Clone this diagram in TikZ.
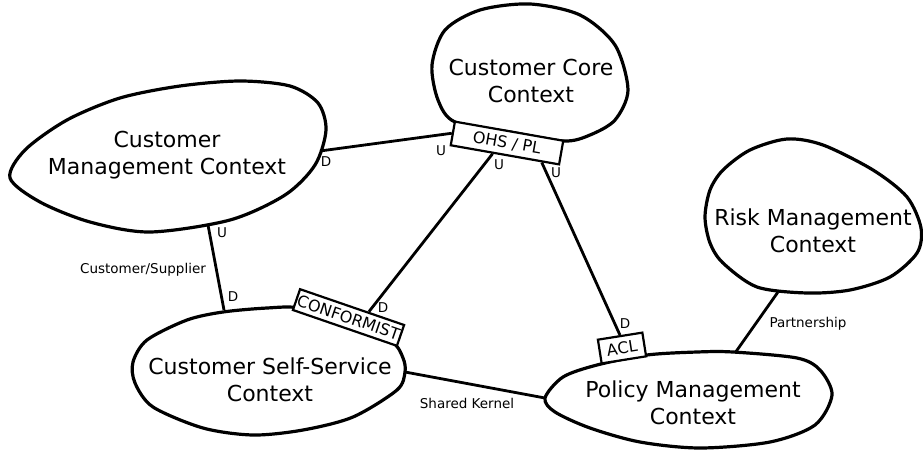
\documentclass[tikz,border=0pt]{standalone}
\usepackage{fontspec}
\setmainfont{DejaVu Sans}
\usetikzlibrary{calc}
\tikzset{
  blob/.style={line width=3.2pt, line join=round},
  ctx/.style={align=center, font=\fontsize{22}{27}\selectfont, inner sep=0pt},
  rbox/.style={draw, fill=white, line width=2.2pt, inner sep=0pt, font=\fontsize{16}{18}\selectfont},
  conn/.style={line width=2.8pt},
  lbl/.style={font=\fontsize{13.5}{15}\selectfont, inner sep=0pt}
}
\begin{document}
\begin{tikzpicture}[x=1pt, y=-1pt]
\useasboundingbox (0,0) rectangle (923,450);
% blobs
\draw[blob] plot[smooth cycle] coordinates {(455,122) (438,100) (432,65) (445,30) (480,10) (530,4) (580,15) (615,45) (628,90) (615,120) (590,135) (564,141) (510,132)};
\draw[blob] plot[smooth cycle] coordinates {(10,178) (25,150) (67,120) (120,98) (180,86) (240,81) (290,86) (318,103) (326,130) (315,165) (285,195) (230,220) (150,232) (90,222) (40,202)};
\draw[blob] plot[smooth cycle] coordinates {(133,362) (147,340) (187,320) (223,312) (267,308) (300,308) (350,322) (392,342) (403,358) (405,372) (397,390) (353,417) (303,430) (253,435) (203,428) (153,407) (135,383)};
\draw[blob] plot[smooth cycle] coordinates {(545,398) (563,377) (597,365) (647,355) (697,352) (733,352) (797,358) (820,370) (832,395) (815,425) (770,442) (700,448) (640,442) (590,428) (555,412)};
\draw[blob] plot[smooth cycle] coordinates {(705,217) (710,190) (723,170) (750,150) (787,139) (823,145) (873,170) (907,197) (921,228) (917,253) (890,277) (850,290) (807,293) (757,287) (723,263) (710,243)};
% context texts
\node[ctx] (core) at (531,81) {Customer Core\\Context};
\node[ctx] (mgmt) at (167,155) {Customer\\Management Context};
\node[ctx] (self) at (270,380) {Customer Self-Service\\Context};
\node[ctx] (policy) at (693,403) {Policy Management\\Context};
\node[ctx] (risk) at (813,231) {Risk Management\\Context};
% attachment coordinates
\coordinate (mgmtE) at (320,151);
\coordinate (mgmtS) at (208,225);
\coordinate (selfN) at (224,310);
\coordinate (selfE) at (405,372);
\coordinate (policyW) at (545,398);
\coordinate (policyN) at (735,353);
\coordinate (riskS) at (778,292);
% boxes
\node[rbox, rotate=-10, minimum width=110pt, minimum height=24pt] (ohs) at (507,143) {OHS / PL};
\node[rbox, rotate=-19, minimum width=110pt, minimum height=22pt] (conf) at (348.5,317.5) {CONFORMIST};
\node[rbox, rotate=9, minimum width=45pt, minimum height=24pt] (acl) at (622,348) {ACL};
% connectors
\draw[conn] (mgmtE) -- (ohs.west);
\draw[conn] (mgmtS) -- (selfN);
\draw[conn] ($(ohs.south)!0.22!(ohs.south west)$) -- ($(conf.north)!0.31!(conf.north east)$);
\draw[conn] ($(ohs.south)!0.67!(ohs.south east)$) -- (acl.north);
\draw[conn] (selfE) -- (policyW);
\draw[conn] (riskS) -- (policyN);
% labels
\node[lbl] (l1) at (441,151) {U};
\node[lbl] (l2) at (326,162) {D};
\node[lbl] (l3) at (222,233) {U};
\node[lbl] (l4) at (233,297) {D};
\node[lbl] (l5) at (499,165) {U};
\node[lbl] (l6) at (383,308) {D};
\node[lbl] (l7) at (556,173) {U};
\node[lbl] (l8) at (625,324) {D};
\node[lbl] (cs) at (143,270) {Customer/Supplier};
\node[lbl] (sk) at (467,403) {Shared Kernel};
\node[lbl] (ps) at (808,324) {Partnership};
\end{tikzpicture}
\end{document}
